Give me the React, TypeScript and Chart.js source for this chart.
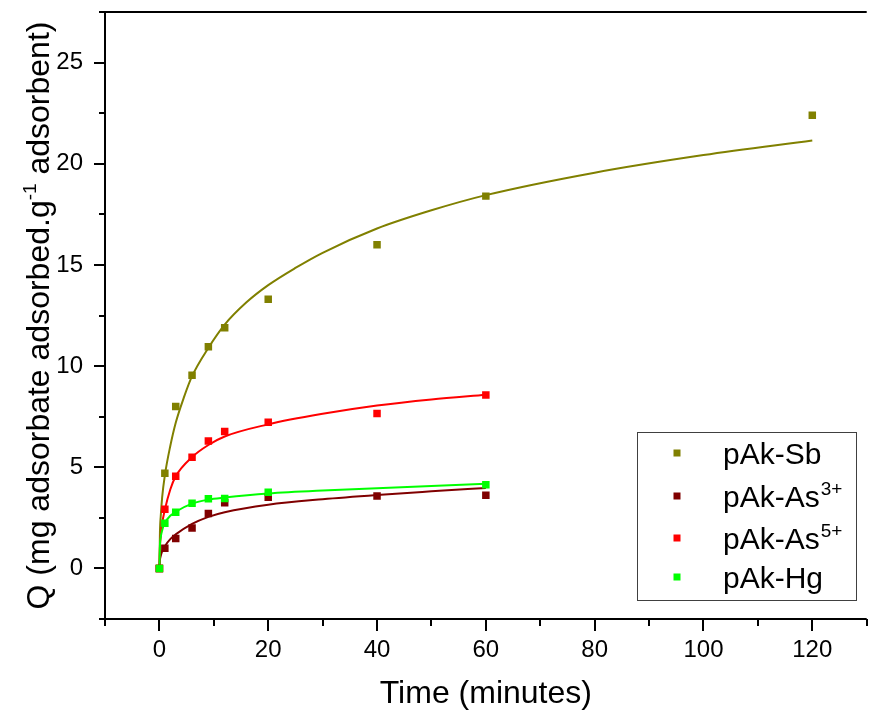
import { useEffect, useRef } from "react";
import { Chart, registerables } from "chart.js";

Chart.register(...registerables);

const FONT = "'Liberation Sans', Arial, sans-serif";

// Measured data points
const sbTime = [0, 1, 3, 6, 9, 12, 20, 40, 60, 120];
const sbQ = [0, 4.7, 8.0, 9.55, 10.95, 11.9, 13.3, 16.0, 18.4, 22.4];
const as3Time = [0, 1, 3, 6, 9, 12, 20, 40, 60];
const as3Q = [0, 1.0, 1.48, 2.0, 2.72, 3.24, 3.52, 3.58, 3.62];
const as5Time = [0, 1, 3, 6, 9, 12, 20, 40, 60];
const as5Q = [0, 2.92, 4.56, 5.5, 6.3, 6.77, 7.23, 7.66, 8.57];
const hgTime = [0, 1, 3, 6, 9, 12, 20, 60];
const hgQ = [0, 2.23, 2.78, 3.22, 3.44, 3.46, 3.77, 4.14];

// Fitted curves
const sbFitTime = [0, 0.1, 0.25, 0.5, 1, 2, 3, 4.5, 6, 9, 12, 16, 20, 25, 30, 40, 50, 60, 80, 100, 120];
const sbFitQ = [0, 1.8, 2.6, 3.5, 4.6, 6.05, 7.2, 8.45, 9.5, 10.9, 12.05, 13.15, 14.0, 14.85, 15.6, 16.8, 17.7, 18.45, 19.56, 20.43, 21.15];
const as3FitTime = [0, 0.1, 0.25, 0.5, 1, 2, 3, 6, 9, 12, 20, 30, 40, 50, 60];
const as3FitQ = [0, 0.42, 0.62, 0.84, 1.1, 1.45, 1.68, 2.2, 2.55, 2.78, 3.15, 3.42, 3.63, 3.81, 3.98];
const as5FitTime = [0, 0.1, 0.25, 0.5, 1, 2, 3, 6, 9, 12, 20, 30, 40, 50, 60];
const as5FitQ = [0, 1.05, 1.6, 2.2, 2.9, 3.9, 4.55, 5.5, 6.1, 6.52, 7.12, 7.64, 8.05, 8.35, 8.58];
const hgFitTime = [0, 0.1, 0.25, 0.5, 1, 2, 3, 6, 9, 12, 20, 30, 40, 50, 60];
const hgFitQ = [0, 1.15, 1.55, 1.88, 2.25, 2.6, 2.8, 3.2, 3.4, 3.5, 3.7, 3.85, 3.96, 4.07, 4.18];

// Axis ticks
const xMajorTicks = [0, 20, 40, 60, 80, 100, 120];
const xMinorTicks = [-10, 10, 30, 50, 70, 90, 110, 130];
const yMajorTicks = [0, 5, 10, 15, 20, 25];
const yMinorTicks = [-2.5, 2.5, 7.5, 12.5, 17.5, 22.5, 27.5];

const COLORS = {
  sb: "#808000",
  as3: "#800000",
  as5: "#FF0000",
  hg: "#00FF00",
};

const legendItems = [
  { base: "pAk-Sb", sup: "", color: COLORS.sb },
  { base: "pAk-As", sup: "3+", color: COLORS.as3 },
  { base: "pAk-As", sup: "5+", color: COLORS.as5 },
  { base: "pAk-Hg", sup: "", color: COLORS.hg },
];

const toXY = (xs: number[], ys: number[]) => xs.map((x, i) => ({ x, y: ys[i] }));

const framePlugin = {
  id: "frame",
  afterDraw(chart: any) {
    const ctx = chart.ctx as CanvasRenderingContext2D;
    const { left, right, top, bottom } = chart.chartArea;
    const xs = chart.scales.x;
    const ys = chart.scales.y;
    ctx.save();
    ctx.strokeStyle = "#000";
    ctx.lineWidth = 2;
    ctx.lineCap = "butt";
    ctx.beginPath();
    ctx.moveTo(left - 1, top);
    ctx.lineTo(right, top);
    ctx.moveTo(left, top - 1);
    ctx.lineTo(left, bottom + 1);
    ctx.moveTo(left - 1, bottom);
    ctx.lineTo(right, bottom);
    xMajorTicks.forEach((v) => {
      const p = Math.round(xs.getPixelForValue(v));
      ctx.moveTo(p, bottom);
      ctx.lineTo(p, bottom + 12);
    });
    xMinorTicks.forEach((v) => {
      const p = Math.round(xs.getPixelForValue(v));
      ctx.moveTo(p, bottom);
      ctx.lineTo(p, bottom + 7);
    });
    yMajorTicks.forEach((v) => {
      const p = Math.round(ys.getPixelForValue(v));
      ctx.moveTo(left, p);
      ctx.lineTo(left - 11, p);
    });
    yMinorTicks.forEach((v) => {
      const p = Math.round(ys.getPixelForValue(v));
      ctx.moveTo(left, p);
      ctx.lineTo(left - 6, p);
    });
    ctx.stroke();

    // Legend
    ctx.lineWidth = 1;
    ctx.strokeStyle = "#404040";
    ctx.strokeRect(637.5, 432.5, 219, 168);
    const rows = [453, 496, 538, 577];
    legendItems.forEach((it, i) => {
      const cy = rows[i];
      ctx.fillStyle = it.color;
      ctx.fillRect(677 - 3.5, cy - 3.5, 7, 7);
      ctx.fillStyle = "#000";
      ctx.textAlign = "left";
      ctx.textBaseline = "alphabetic";
      ctx.font = `30px ${FONT}`;
      ctx.fillText(it.base, 723, cy + 11);
      if (it.sup) {
        const w = ctx.measureText(it.base).width;
        ctx.font = `19px ${FONT}`;
        ctx.fillText(it.sup, 723 + w + 1, cy + 11 - 12);
      }
    });

    // Y axis title with superscript
    const part1 = "Q (mg adsorbate adsorbed.g";
    const sup = "-1";
    const part2 = " adsorbent)";
    ctx.font = `32px ${FONT}`;
    const w1 = ctx.measureText(part1).width;
    const w3 = ctx.measureText(part2).width;
    ctx.font = `19px ${FONT}`;
    const w2 = ctx.measureText(sup).width;
    const total = w1 + w2 + w3;
    ctx.translate(49, (top + bottom) / 2);
    ctx.rotate(-Math.PI / 2);
    ctx.fillStyle = "#000";
    ctx.textBaseline = "alphabetic";
    ctx.textAlign = "left";
    let x0 = -total / 2;
    ctx.font = `32px ${FONT}`;
    ctx.fillText(part1, x0, 0);
    x0 += w1;
    ctx.font = `19px ${FONT}`;
    ctx.fillText(sup, x0, -13);
    x0 += w2;
    ctx.font = `32px ${FONT}`;
    ctx.fillText(part2, x0, 0);
    ctx.restore();
  },
};

export default function App() {
  const ref = useRef<HTMLCanvasElement | null>(null);

  useEffect(() => {
    const canvas = ref.current;
    if (!canvas) return;
    const lineDs = (data: any, color: string, order: number) => ({
      type: "line" as const,
      data,
      showLine: true,
      borderColor: color,
      backgroundColor: color,
      borderWidth: 2,
      pointRadius: 0,
      pointHoverRadius: 0,
      cubicInterpolationMode: "monotone" as const,
      fill: false,
      order,
    });
    const pointDs = (data: any, color: string, order: number) => ({
      type: "scatter" as const,
      data,
      showLine: false,
      pointStyle: "rect" as const,
      pointRadius: 5.3,
      pointBackgroundColor: color,
      pointBorderColor: color,
      pointBorderWidth: 0,
      backgroundColor: color,
      borderColor: color,
      order,
    });

    const chart = new Chart(canvas, {
      type: "scatter",
      data: {
        datasets: [
          pointDs(toXY(hgTime, hgQ), COLORS.hg, 0),
          pointDs(toXY(as5Time, as5Q), COLORS.as5, 1),
          pointDs(toXY(as3Time, as3Q), COLORS.as3, 2),
          pointDs(toXY(sbTime, sbQ), COLORS.sb, 3),
          lineDs(toXY(hgFitTime, hgFitQ), COLORS.hg, 4),
          lineDs(toXY(as5FitTime, as5FitQ), COLORS.as5, 5),
          lineDs(toXY(as3FitTime, as3FitQ), COLORS.as3, 6),
          lineDs(toXY(sbFitTime, sbFitQ), COLORS.sb, 7),
        ] as any,
      },
      options: {
        animation: false,
        responsive: false,
        devicePixelRatio: 1,
        events: [],
        layout: { padding: { left: 0, right: 0, top: 12, bottom: 0 } },
        plugins: {
          legend: { display: false },
          tooltip: { enabled: false },
          title: { display: false },
        },
        scales: {
          x: {
            type: "linear",
            min: -10,
            max: 130,
            grid: { display: false, drawTicks: false },
            border: { display: false },
            afterBuildTicks: (s: any) => {
              s.ticks = xMajorTicks.map((v) => ({ value: v }));
            },
            afterFit: (s: any) => {
              s.height = 94;
              s.paddingLeft = 0;
              s.paddingRight = 0;
            },
            ticks: {
              color: "#000",
              font: { family: FONT, size: 24 },
              padding: 17,
              maxRotation: 0,
              autoSkip: false,
            },
            title: {
              display: true,
              text: "Time (minutes)",
              color: "#000",
              font: { family: FONT, size: 32, lineHeight: 1.2 },
              padding: { top: 0, bottom: 0 },
            },
          },
          y: {
            type: "linear",
            min: -2.5,
            max: 27.5,
            grid: { display: false, drawTicks: false },
            border: { display: false },
            afterBuildTicks: (s: any) => {
              s.ticks = yMajorTicks.map((v) => ({ value: v }));
            },
            afterFit: (s: any) => {
              s.width = 105;
              s.paddingTop = 0;
              s.paddingBottom = 0;
            },
            ticks: {
              color: "#000",
              font: { family: FONT, size: 24 },
              padding: 22,
              autoSkip: false,
            },
          },
        },
      },
      plugins: [framePlugin],
    } as any);
    return () => chart.destroy();
  }, []);

  return (
    <div style={{ position: "fixed", left: 0, top: 0, width: 872, height: 713, background: "#fff" }}>
      <canvas ref={ref} width={872} height={713} style={{ display: "block", width: 872, height: 713 }} />
    </div>
  );
}
